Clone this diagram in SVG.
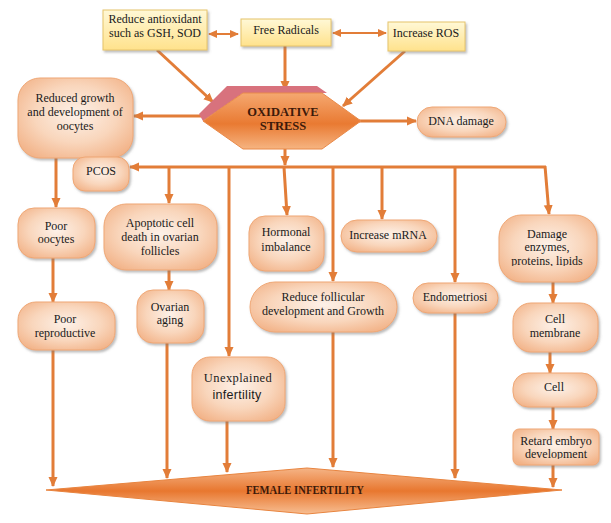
<svg xmlns="http://www.w3.org/2000/svg" width="611" height="523" viewBox="0 0 611 523">
<style>
.node{fill:url(#peach);stroke:#EFA775;stroke-width:1;filter:url(#sh)}
.ybox{fill:url(#yel);stroke:#E6C46A;stroke-width:1;filter:url(#sh)}
.t{font-family:"Liberation Serif","Times New Roman",serif;font-size:12px;fill:#1a1a1a;text-anchor:middle}
.tb{font-family:"Liberation Serif","Times New Roman",serif;font-size:12.5px;font-weight:bold;fill:#3d1a0a;text-anchor:middle}
.ts{font-family:"Liberation Sans",Arial,sans-serif;font-size:12.5px;fill:#1a1a1a;text-anchor:middle;letter-spacing:0.3px}
.c{fill:none;stroke:#E27D38;stroke-width:3;marker-end:url(#ah)}
.d{fill:none;stroke:#E27D38;stroke-width:2;marker-end:url(#ahs);marker-start:url(#ahs)}
.l{fill:none;stroke:#E27D38;stroke-width:3}
</style>
<defs>
<radialGradient id="peach" cx="50%" cy="45%" r="65%">
<stop offset="0" stop-color="#FDF1E8"/>
<stop offset="0.55" stop-color="#F9D6BC"/>
<stop offset="1" stop-color="#F2B287"/>
</radialGradient>
<linearGradient id="yel" x1="0" y1="0" x2="0" y2="1">
<stop offset="0" stop-color="#FFF8D6"/>
<stop offset="1" stop-color="#FFE28C"/>
</linearGradient>
<linearGradient id="hexg" x1="0" y1="0" x2="0" y2="1">
<stop offset="0" stop-color="#F5A870"/>
<stop offset="0.55" stop-color="#E97A32"/>
<stop offset="1" stop-color="#F6B481"/>
</linearGradient>
<linearGradient id="diag" x1="0" y1="0" x2="0" y2="1">
<stop offset="0" stop-color="#F5B486"/>
<stop offset="0.5" stop-color="#E8772F"/>
<stop offset="1" stop-color="#F7BE92"/>
</linearGradient>
<filter id="sh" x="-10%" y="-10%" width="125%" height="130%">
<feDropShadow dx="1.5" dy="2" stdDeviation="1.2" flood-color="#7a7a7a" flood-opacity="0.5"/>
</filter>
<marker id="ah" markerUnits="userSpaceOnUse" markerWidth="10" markerHeight="10" refX="9" refY="5" orient="auto">
<path d="M0,0.5 L10,5 L0,9.5 z" fill="#E27D38"/>
</marker>
<marker id="ahs" markerUnits="userSpaceOnUse" markerWidth="9" markerHeight="9" refX="8" refY="4.5" orient="auto-start-reverse">
<path d="M0,0.5 L9,4.5 L0,8.5 z" fill="#E27D38"/>
</marker>
<clipPath id="clipDmg"><rect x="495" y="210" width="110" height="56"/></clipPath>
<clipPath id="clipRet"><rect x="505" y="425" width="100" height="34"/></clipPath>
</defs>

<g id="connectors">
<path class="d" d="M209,34 L238,34"/>
<path class="d" d="M333,33 L386,33"/>
<path class="c" d="M157,50 L213,102"/>
<path class="c" d="M285,46 L285,90"/>
<path class="c" d="M405,51 L343,106"/>
<path class="c" d="M201,116 L134,116"/>
<path class="c" d="M359,121 L416,121"/>
<path class="c" d="M285,149 L285,165"/>
<path class="c" d="M546,167 L130,167"/>
<path class="c" d="M545,166 L549,214"/>
<path class="c" d="M56,158 L56,207"/>
<path class="c" d="M169,167 L169,203"/>
<path class="c" d="M229,167 L229,356"/>
<path class="c" d="M284,167 L287,215"/>
<path class="c" d="M333,167 L333,281"/>
<path class="c" d="M382,167 L382,219"/>
<path class="c" d="M455,167 L455,282"/>
<path class="c" d="M53,258 L53,302"/>
<path class="c" d="M169,270 L169,290"/>
<path class="c" d="M553,282 L553,303"/>
<path class="c" d="M550,352 L550,373"/>
<path class="c" d="M553,407 L553,429"/>
<path class="c" d="M53,350 L53,486"/>
<path class="c" d="M167,343 L167,478"/>
<path class="c" d="M227,421 L227,472"/>
<path class="c" d="M333,332 L333,467"/>
<path class="c" d="M455,313 L455,478"/>
<path class="c" d="M553,465 L553,487"/>
</g>

<g id="reduce-antioxidant">
<rect class="ybox" x="103" y="10" width="104" height="40"/>
<text class="t" x="155" y="23">Reduce antioxidant</text>
<text class="t" x="155" y="37">such as GSH, SOD</text>
</g>
<g id="free-radicals">
<rect class="ybox" x="241" y="19" width="90" height="27"/>
<text class="t" x="286" y="34">Free Radicals</text>
</g>
<g id="increase-ros">
<rect class="ybox" x="388" y="22" width="77" height="29"/>
<text class="t" x="426" y="37">Increase ROS</text>
</g>

<g id="oxidative-stress">
<polygon points="199,114 227,86 317,86 327,93 243,93 203,121" fill="#D8727D"/>
<polygon points="203,121 243,93 322,93 361,121 322,149 243,149" fill="url(#hexg)" stroke="#E98A4A" stroke-width="1"/>
<text class="tb" x="283" y="116">OXIDATIVE</text>
<text class="tb" x="283" y="130">STRESS</text>
</g>

<g id="dna-damage">
<rect class="node" x="417" y="107" width="89" height="30" rx="15"/>
<text class="t" x="461" y="125">DNA damage</text>
</g>

<g id="reduced-growth">
<rect class="node" x="18" y="78" width="115" height="80" rx="22"/>
<text class="t" x="75" y="102">Reduced growth</text>
<text class="t" x="75" y="116">and development of</text>
<text class="t" x="75" y="130">oocytes</text>
</g>

<g id="pcos">
<rect class="node" x="73" y="157" width="56" height="34" rx="12"/>
<text class="t" x="101" y="175">PCOS</text>
</g>

<g id="poor-oocytes">
<rect class="node" x="18" y="208" width="77" height="50" rx="16"/>
<text class="t" x="56" y="230">Poor</text>
<text class="t" x="56" y="243">oocytes</text>
</g>

<g id="poor-reproductive">
<rect class="node" x="18" y="302" width="97" height="48" rx="18"/>
<text class="t" x="65" y="323">Poor</text>
<text class="t" x="65" y="337">reproductive</text>
</g>

<g id="apoptotic">
<rect class="node" x="104" y="204" width="113" height="66" rx="22"/>
<text class="t" x="160" y="227">Apoptotic cell</text>
<text class="t" x="160" y="241">death in ovarian</text>
<text class="t" x="160" y="255">follicles</text>
</g>

<g id="ovarian-aging">
<rect class="node" x="137" y="290" width="67" height="53" rx="16"/>
<text class="t" x="170" y="311">Ovarian</text>
<text class="t" x="170" y="324">aging</text>
</g>

<g id="hormonal-imbalance">
<rect class="node" x="249" y="216" width="75" height="55" rx="16"/>
<text class="t" x="286" y="236">Hormonal</text>
<text class="t" x="286" y="251">imbalance</text>
</g>

<g id="increase-mrna">
<rect class="node" x="341" y="220" width="96" height="32" rx="16"/>
<text class="t" x="388" y="239">Increase mRNA</text>
</g>

<g id="reduce-follicular">
<rect class="node" x="250" y="282" width="147" height="50" rx="25"/>
<text class="t" x="323" y="301">Reduce follicular</text>
<text class="t" x="323" y="315">development and Growth</text>
</g>

<g id="endometriosi">
<rect class="node" x="413" y="283" width="85" height="30" rx="15"/>
<text class="t" x="455" y="301">Endometriosi</text>
</g>

<g id="damage-enzymes">
<rect class="node" x="499" y="215" width="98" height="67" rx="22"/>
<g clip-path="url(#clipDmg)">
<text class="t" x="547" y="238">Damage</text>
<text class="t" x="547" y="251">enzymes,</text>
<text class="t" x="547" y="265">proteins, lipids</text>
</g>
</g>

<g id="cell-membrane">
<rect class="node" x="513" y="303" width="85" height="49" rx="18"/>
<text class="t" x="555" y="323">Cell</text>
<text class="t" x="555" y="337">membrane</text>
</g>

<g id="cell">
<rect class="node" x="513" y="373" width="84" height="34" rx="15"/>
<text class="t" x="554" y="391">Cell</text>
</g>

<g id="retard-embryo">
<rect class="node" x="513" y="429" width="86" height="36" rx="6"/>
<g clip-path="url(#clipRet)">
<text class="t" x="556" y="445">Retard embryo</text>
<text class="t" x="556" y="458">development</text>
</g>
</g>

<g id="unexplained-infertility">
<rect class="node" x="192" y="357" width="93" height="64" rx="18"/>
<text class="t" x="238" y="382" style="font-size:12.5px;letter-spacing:0.4px">Unexplained</text>
<text class="ts" x="237" y="399">infertility</text>
</g>

<g id="female-infertility">
<polygon points="46,490 307,468 562,490 307,514" fill="url(#diag)" stroke="#E8843F" stroke-width="1"/>
<text class="tb" x="305" y="494" textLength="118" lengthAdjust="spacingAndGlyphs">FEMALE INFERTILITY</text>
</g>
</svg>
